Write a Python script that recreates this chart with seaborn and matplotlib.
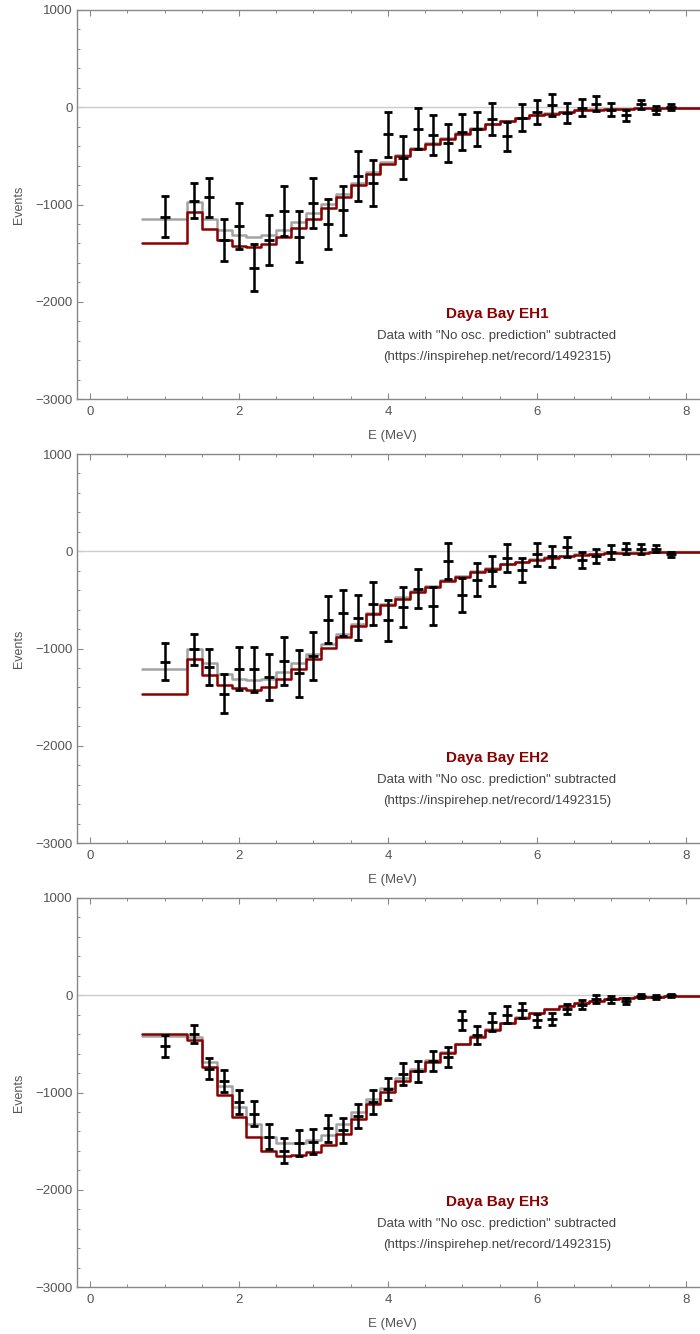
import numpy as np
import matplotlib
matplotlib.use("Agg")
import matplotlib.pyplot as plt
from matplotlib.ticker import MultipleLocator
import seaborn as sns

# ---------------- data ----------------
bin_edges = [0.7, 1.3, 1.5, 1.7, 1.9, 2.1, 2.3, 2.5, 2.7, 2.9, 3.1, 3.3, 3.5, 3.7,
             3.9, 4.1, 4.3, 4.5, 4.7, 4.9, 5.1, 5.3, 5.5, 5.7, 5.9, 6.1, 6.3, 6.5,
             6.7, 6.9, 7.1, 7.3, 7.5, 7.7, 7.9, 8.3]

e_points = [1.0, 1.4, 1.6, 1.8, 2.0, 2.2, 2.4, 2.6, 2.8, 3.0, 3.2, 3.4, 3.6, 3.8,
            4.0, 4.2, 4.4, 4.6, 4.8, 5.0, 5.2, 5.4, 5.6, 5.8, 6.0, 6.2, 6.4, 6.6,
            6.8, 7.0, 7.2, 7.4, 7.6, 7.8]

halls = ["Daya Bay EH1", "Daya Bay EH2", "Daya Bay EH3"]

eh1_data = [-1127, -963, -928, -1367, -1220, -1648, -1367, -1066, -1333, -980, -1196,
            -1059, -706, -778, -277, -517, -219, -288, -367, -254, -226, -117, -298,
            -110, -48, 21, -58, -3, 38, -24, -82, 31, -31, 3]
eh1_err = [210, 180, 200, 218, 233, 243, 255, 258, 262, 257, 257, 254, 257, 240, 231,
           223, 212, 207, 195, 187, 175, 164, 149, 139, 127, 116, 99, 91, 79, 69, 57,
           48, 39, 31]
eh1_red = [-1401, -1076, -1254, -1367, -1425, -1432, -1411, -1339, -1240, -1144, -1031,
           -922, -795, -682, -579, -504, -432, -373, -322, -270, -219, -175, -141, -110,
           -82, -65, -48, -31, -24, -17, -14, -10, -7, -3, -3]
eh1_gray = [-1151, -973, -1144, -1264, -1315, -1333, -1315, -1264, -1178, -1083, -990,
            -887, -774, -665, -562, -490, -420, -363, -314, -263, -213, -170, -137, -107,
            -80, -63, -47, -30, -23, -17, -13, -10, -7, -3, -3]

eh2_data = [-1137, -1010, -1189, -1463, -1206, -1213, -1292, -1127, -1257, -1076, -702,
            -634, -682, -538, -712, -572, -384, -565, -99, -452, -291, -202, -69, -195,
            -31, -51, 44, -92, -48, -7, 27, 21, 27, -31]
eh2_err = [192, 163, 187, 202, 218, 230, 236, 245, 245, 245, 245, 236, 231, 221, 214,
           209, 199, 194, 185, 175, 166, 151, 140, 125, 120, 108, 98, 82, 72, 69, 58,
           51, 38, 26]
eh2_red = [-1473, -1110, -1274, -1377, -1411, -1422, -1394, -1316, -1213, -1110, -990,
           -885, -772, -650, -555, -486, -418, -367, -308, -264, -212, -178, -134, -110,
           -86, -65, -51, -34, -27, -21, -17, -14, -10, -7, -3]
eh2_gray = [-1206, -1004, -1154, -1264, -1309, -1326, -1309, -1240, -1154, -1059, -955,
            -856, -748, -635, -540, -473, -407, -357, -300, -257, -206, -173, -130, -107,
            -84, -63, -50, -33, -26, -20, -16, -13, -10, -7, -3]

eh3_data = [-521, -401, -754, -884, -1096, -1216, -1456, -1600, -1524, -1507, -1370,
            -1387, -1244, -1096, -969, -805, -781, -678, -634, -257, -411, -274, -199,
            -154, -257, -247, -137, -96, -41, -41, -58, -10, -17, 0]
eh3_err = [111, 94, 106, 111, 120, 125, 128, 130, 134, 128, 135, 128, 125, 120, 113,
           113, 108, 106, 103, 99, 92, 89, 86, 77, 69, 60, 51, 48, 43, 36, 29, 21, 17,
           15]
eh3_red = [-401, -462, -737, -1021, -1257, -1456, -1600, -1652, -1644, -1610, -1535,
           -1422, -1268, -1120, -994, -877, -780, -685, -593, -504, -428, -353, -284,
           -229, -182, -144, -110, -79, -58, -41, -31, -21, -17, -10, -10]
eh3_gray = [-421, -428, -685, -935, -1148, -1326, -1456, -1518, -1524, -1490, -1439,
            -1326, -1199, -1069, -949, -850, -754, -670, -585, -498, -424, -350, -282,
            -227, -180, -143, -109, -78, -57, -40, -30, -21, -17, -10, -10]

panels = [
    (halls[0], eh1_data, eh1_err, eh1_red, eh1_gray),
    (halls[1], eh2_data, eh2_err, eh2_red, eh2_gray),
    (halls[2], eh3_data, eh3_err, eh3_red, eh3_gray),
]

subtitle1 = 'Data with "No osc. prediction" subtracted'
subtitle2 = '(https://inspirehep.net/record/1492315)'
xlabel = "E (MeV)"
ylabel = "Events"

# ---------------- style ----------------
sns.set_theme(style="ticks")
plt.rcParams['font.family'] = ['Liberation Sans', 'DejaVu Sans']

RED = "#8B0000"
GRAY = "#A3A3A3"
AXC = "#888888"
TXT = "#555555"

W, H = 700, 1334
fig = plt.figure(figsize=(W / 100, H / 100), dpi=100)

tops = [10, 454, 898]
axh = 389
left_px = 77

for (title, data, err, red, gray), top in zip(panels, tops):
    bottom = top + axh
    ax = fig.add_axes([left_px / W, 1 - bottom / H, (W - left_px) / W, axh / H])
    ax.set_xlim(-0.175, 8.19)
    ax.set_ylim(-3000, 1000)

    ax.axhline(0, color="#cccccc", lw=1.0, zorder=1)

    edges = np.array(bin_edges)
    red_v = np.append(red, red[-1])
    gray_v = np.append(gray, gray[-1])
    sns.lineplot(x=edges, y=gray_v, drawstyle="steps-post", color=GRAY, lw=1.8,
                 estimator=None, sort=False, ax=ax, zorder=2)
    sns.lineplot(x=edges, y=red_v, drawstyle="steps-post", color=RED, lw=1.8,
                 estimator=None, sort=False, ax=ax, zorder=3)

    ax.errorbar(e_points, data, yerr=err, fmt="_", color="black", ecolor="black",
                elinewidth=1.8, capsize=2.6, capthick=1.6, markersize=6.5, mew=2.0,
                zorder=4)

    # axes styling
    for s in ["left", "bottom", "top"]:
        ax.spines[s].set_color(AXC)
        ax.spines[s].set_linewidth(1.0)
    ax.spines["right"].set_visible(False)

    ax.xaxis.set_major_locator(MultipleLocator(2))
    ax.xaxis.set_minor_locator(MultipleLocator(0.5))
    ax.yaxis.set_major_locator(MultipleLocator(1000))
    ax.yaxis.set_minor_locator(MultipleLocator(200))
    ax.tick_params(which="both", direction="in", top=True, right=False,
                   color=AXC, labelcolor=TXT, labelsize=9.5)
    ax.tick_params(which="major", length=4.5, width=0.8)
    ax.tick_params(which="minor", length=2.5, width=0.7)
    ax.tick_params(axis="x", pad=5)
    ax.tick_params(axis="y", pad=3)
    ax.set_yticklabels([f"{int(v)}".replace("-", "\u2212") for v in ax.get_yticks()])

    ax.set_xlabel(xlabel, color=TXT, fontsize=9.5, va="center")
    ax.set_ylabel(ylabel, color=TXT, fontsize=9)
    ax.xaxis.set_label_coords(0.507, -0.095)
    ax.yaxis.set_label_coords(-0.084, 0.5)

    ax.text(0.674, 0.2185, title, transform=ax.transAxes, ha="center", va="center",
            color=RED, fontsize=11, fontweight="bold")
    ax.text(0.674, 0.162, subtitle1, transform=ax.transAxes, ha="center",
            va="center", color="#444444", fontsize=9.5)
    ax.text(0.674, 0.108, subtitle2, transform=ax.transAxes, ha="center",
            va="center", color="#444444", fontsize=9.5)

fig.savefig("out.png", dpi=100)
